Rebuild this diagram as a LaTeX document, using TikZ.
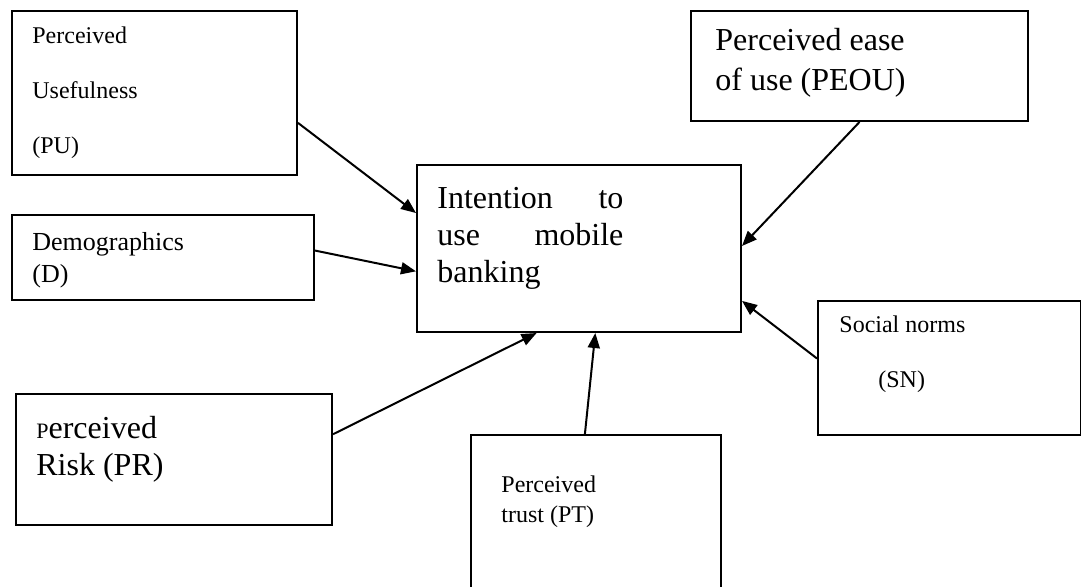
\documentclass[tikz,border=0pt]{standalone}
\usepackage{fontspec}
\setmainfont{Liberation Serif}
\usetikzlibrary{calc,arrows.meta}

\begin{document}
\begin{tikzpicture}[x=0.5pt,y=-0.5pt,
  box/.style={draw,line width=1pt,anchor=north west,inner sep=0pt},
  txt/.style={anchor=base west,inner sep=0pt,text width=125pt,align=flush left},
  link/.style={line width=1pt,-{Triangle[length=7.5pt,width=6pt]}}]
\clip (0,0) rectangle (1081,586);
\node[box,minimum width=142.5pt,minimum height=82pt] (pu) at (11,10) {};
\node[box,minimum width=151pt,minimum height=42.5pt] (dem) at (11,214) {};
\node[box,minimum width=162pt,minimum height=83.5pt] (int) at (416,164) {};
\node[box,minimum width=168.5pt,minimum height=55pt] (peou) at (690,10) {};
\node[box,minimum width=158pt,minimum height=65.5pt] (pr) at (15,393) {};
\node[box,minimum width=125pt,minimum height=85pt] (pt) at (470,434) {};
\node[box,minimum width=131.5pt,minimum height=67pt] (sn) at (817,300) {};
\node[txt,font=\fontsize{12}{27.5}\selectfont] (puT) at (32,43) {Perceived\\Usefulness\\(PU)};
\node[txt,font=\fontsize{13}{16}\selectfont] (demT) at (32,250) {Demographics\\(D)};
\node[txt,text width=93pt,font=\fontsize{16}{18.5}\selectfont] (intT) at (437,208) {Intention\hfill to\\use\hfill mobile\\banking};
\node[txt,font=\fontsize{16}{20}\selectfont] (peouT) at (715,50) {Perceived ease\\of use (PEOU)};
\node[txt,font=\fontsize{16}{18.5}\selectfont] (prT) at (36,438) {{\fontsize{11}{11}\selectfont P}erceived\\Risk (PR)};
\node[txt,font=\fontsize{12}{15}\selectfont] (ptT) at (501,492) {Perceived\\trust (PT)};
\node[txt,font=\fontsize{12}{27.5}\selectfont] (snT) at (839,332) {Social norms\\\hspace*{19.5pt}(SN)};
\draw[link] ($(pu.north east)!0.68!(pu.south east)$) -- ($(int.north west)!0.29!(int.south west)$);
\draw[link] ($(dem.north east)!0.42!(dem.south east)$) -- ($(int.north west)!0.635!(int.south west)$);
\draw[link] ($(pr.north east)!0.31!(pr.south east)$) -- ($(int.south west)!0.37!(int.south east)$);
\draw[link] ($(pt.north west)!0.456!(pt.north east)$) -- ($(int.south west)!0.55!(int.south east)$);
\draw[link] ($(sn.north west)!0.43!(sn.south west)$) -- ($(int.north east)!0.81!(int.south east)$);
\draw[link] (peou.south) -- ($(int.north east)!0.485!(int.south east)$);
\end{tikzpicture}
\end{document}
